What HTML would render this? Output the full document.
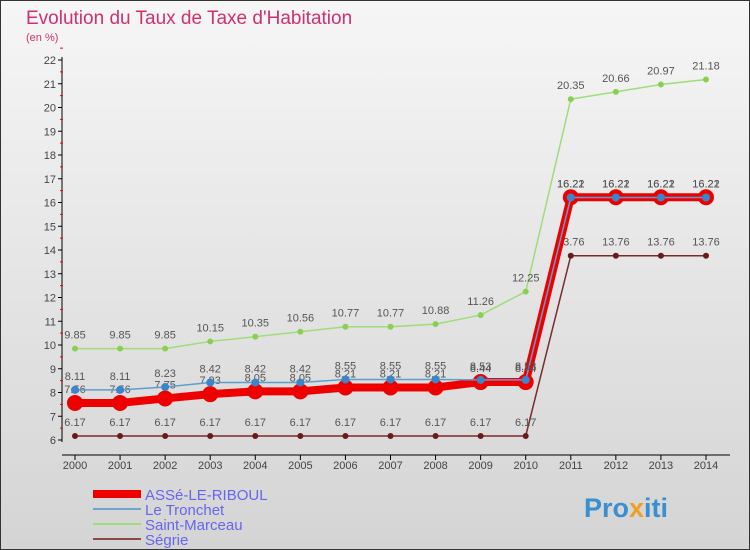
<!DOCTYPE html>
<html><head><meta charset="utf-8"><style>
body{margin:0}
#c{width:750px;height:550px;position:relative;overflow:hidden;font-family:"Liberation Sans",sans-serif}
</style></head><body>
<div id="c">
<svg id="s" width="750" height="550" xmlns="http://www.w3.org/2000/svg">
<defs><linearGradient id="bg" x1="0" y1="0" x2="0" y2="1"><stop offset="0" stop-color="#f6f6f6"/><stop offset="1" stop-color="#d4d4d4"/></linearGradient></defs>
<rect x="0.5" y="0.5" width="749" height="549" fill="url(#bg)" stroke="#333"/>
<text x="26" y="24" font-size="19" fill="#d0306e">Evolution du Taux de Taxe d'Habitation</text>
<text x="26" y="41" font-size="11" fill="#d0306e">(en %)</text>
<g id="axes"></g><g id="series"></g><g id="legend"></g>
<text x="584" y="517" font-size="27" font-weight="bold" fill="#3a8fd0">Pro<tspan fill="#f0a020">x</tspan>iti</text>
</svg></div>
<script>
const years=[2000,2001,2002,2003,2004,2005,2006,2007,2008,2009,2010,2011,2012,2013,2014];
const yTicks=[6,7,8,9,10,11,12,13,14,15,16,17,18,19,20,21,22];
const asse=[7.56,7.56,7.75,7.93,8.05,8.05,8.21,8.21,8.21,8.44,8.44,16.22,16.22,16.22,16.22];
const tronchet=[8.11,8.11,8.23,8.42,8.42,8.42,8.55,8.55,8.55,8.53,8.53,16.21,16.21,16.21,16.21];
const marceau=[9.85,9.85,9.85,10.15,10.35,10.56,10.77,10.77,10.88,11.26,12.25,20.35,20.66,20.97,21.18];
const segrie=[6.17,6.17,6.17,6.17,6.17,6.17,6.17,6.17,6.17,6.17,6.17,13.76,13.76,13.76,13.76];
const NS="http://www.w3.org/2000/svg";
const X=i=>75+i*(706-75)/(years.length-1);
const Y=v=>440-(v-6)*(440-60)/16;
function mk(t,a,p){const e=document.createElementNS(NS,t);for(const k in a)e.setAttribute(k,a[k]);p.appendChild(e);return e;}
const ax=document.getElementById('axes');
let l=mk('line',{x1:62,y1:57,x2:62,y2:442,stroke:'#000'},ax);


l=mk('line',{x1:62,y1:455,x2:730,y2:455,stroke:'#000'},ax);


yTicks.forEach(v=>{
 mk('line',{x1:58,y1:Y(v),x2:62,y2:Y(v),stroke:'#000'},ax);
 mk('line',{x1:60,y1:Y(v+0.5),x2:63,y2:Y(v+0.5),stroke:'#e00'},ax);
 const t=mk('text',{x:56,y:Y(v)+4,'font-size':11,'text-anchor':'end',fill:'#444'},ax);t.textContent=v;
 
 
});
years.forEach((y,i)=>{
 mk('line',{x1:X(i),y1:455,x2:X(i),y2:460,stroke:'#000'},ax);
 const t=mk('text',{x:X(i),y:469,'font-size':11,'text-anchor':'middle',fill:'#444'},ax);t.textContent=y;
 
 
});
const sg=document.getElementById('series');
function series(d,name,col,w,r,dot,lblDy){
 const g=mk('g',{},sg);
 
 
 mk('polyline',{points:d.map((v,i)=>X(i)+','+Y(v)).join(' '),fill:'none',stroke:col,'stroke-width':w},g);
 d.forEach((v,i)=>{
  const c=mk('circle',{cx:X(i),cy:Y(v),r:r,fill:dot},g);
  
  
  const t=mk('text',{x:X(i),y:Y(v)+lblDy,'font-size':11,'text-anchor':'middle',fill:'#555'},g);t.textContent=v;
 });
}
series(marceau,'saint-marceau','#9fdc7a',1.5,3,'#8ad050',-10);
series(segrie,'segrie','#7a2a2a',1.5,3,'#6a1a1a',-10);
series(asse,'asse-le-riboul','#e00',8,8,'#e00',-10);
series(tronchet,'le-tronchet','#5b9fd0',1.5,4,'#3a86c8',-10);
const lg=document.getElementById('legend');
[['ASSé-LE-RIBOUL','#e00',8],['Le Tronchet','#6aa6d0',2],['Saint-Marceau','#9fdc7a',2],['Ségrie','#8a4a4a',2]].forEach((e,i)=>{
 const y=494+i*15;
 const g=mk('g',{},lg);
 
 
 mk('line',{x1:93,y1:y,x2:141,y2:y,stroke:e[1],'stroke-width':e[2]},g);
 const t=mk('text',{x:145,y:y+6,'font-size':15,fill:'#6666ee'},g);t.textContent=e[0];
});
</script>
</body></html>
